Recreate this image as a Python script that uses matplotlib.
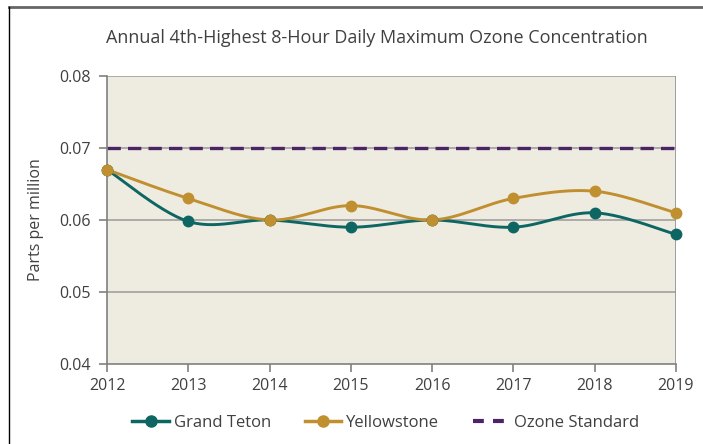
import matplotlib.pyplot as plt
from matplotlib.lines import Line2D
import numpy as np

years = [2012, 2013, 2014, 2015, 2016, 2017, 2018, 2019]
grand_teton = [0.067, 0.0598, 0.060, 0.059, 0.060, 0.059, 0.061, 0.058]
yellowstone = [0.067, 0.063, 0.060, 0.062, 0.060, 0.063, 0.064, 0.061]
ozone_standard = 0.070

teal = "#0e6663"
gold = "#c08f30"
purple = "#4b2466"
text_color = "#404040"

plt.rcParams["font.family"] = ["Open Sans", "DejaVu Sans"]


def smooth(x, y, n=30):
    # Excel-style smoothed line: cubic Bezier segments with Catmull-Rom tangents
    x = np.asarray(x, float)
    y = np.asarray(y, float)
    xs, ys = [], []
    t = np.linspace(0, 1, n)
    for i in range(len(x) - 1):
        p0 = np.array([x[max(i - 1, 0)], y[max(i - 1, 0)]])
        p1 = np.array([x[i], y[i]])
        p2 = np.array([x[i + 1], y[i + 1]])
        p3 = np.array([x[min(i + 2, len(x) - 1)], y[min(i + 2, len(x) - 1)]])
        c1 = p1 + (p2 - p0) / 6
        c2 = p2 - (p3 - p1) / 6
        b = (np.outer((1 - t) ** 3, p1) + np.outer(3 * (1 - t) ** 2 * t, c1)
             + np.outer(3 * (1 - t) * t ** 2, c2) + np.outer(t ** 3, p2))
        xs.extend(b[:, 0])
        ys.extend(b[:, 1])
    return xs, ys


fig = plt.figure(figsize=(7.03, 4.44), dpi=100)
ax = fig.add_axes([107 / 703, 1 - 364 / 444, (676 - 107) / 703, (364 - 76) / 444])
ax.set_facecolor("#eeebe1")

for v in [0.05, 0.06, 0.07, 0.08]:
    ax.axhline(v, color="#a0a0a0", linewidth=1.2, zorder=1)

ax.plot([years[0], years[-1]], [ozone_standard, ozone_standard], color=purple,
        linewidth=2.4, dashes=(4, 2.15), dash_capstyle="butt", zorder=2)

for vals, c in [(grand_teton, teal), (yellowstone, gold)]:
    sx, sy = smooth(years, vals)
    ax.plot(sx, sy, color=c, linewidth=2.1, zorder=3, solid_capstyle="round")
    ax.plot(years, vals, "o", color=c, markersize=7.5, zorder=4, clip_on=False)

ax.set_xlim(2012, 2019)
ax.set_ylim(0.04, 0.08)
ax.set_xticks(years)
ax.set_yticks([0.04, 0.05, 0.06, 0.07, 0.08])
ax.set_yticklabels(["0.04", "0.05", "0.06", "0.07", "0.08"])
for s in ["top", "right"]:
    ax.spines[s].set_visible(False)
ax.spines["left"].set_color("#808080")
ax.spines["bottom"].set_color("#808080")
ax.spines["left"].set_linewidth(1.2)
ax.spines["bottom"].set_linewidth(1.2)
ax.axvline(2019, color="#909090", linewidth=1.2, zorder=1)
ax.tick_params(axis="both", colors="#808080", labelcolor=text_color,
               labelsize=11.5, length=6, width=1.2)
ax.tick_params(axis="x", pad=4)
ax.tick_params(axis="y", pad=6)
ax.set_ylabel("Parts per million", color=text_color, fontsize=11.5, labelpad=11)

fig.text(377 / 703, 1 - 38 / 444, "Annual 4th-Highest 8-Hour Daily Maximum Ozone Concentration",
         ha="center", va="center", color=text_color, fontsize=13)

handles = [
    Line2D([], [], color=teal, linewidth=2.5, marker="o", markersize=8),
    Line2D([], [], color=gold, linewidth=2.5, marker="o", markersize=8),
    Line2D([], [], color=purple, linewidth=3, dashes=(2.6, 2.2), dash_capstyle="butt"),
]
fig.legend(handles, ["Grand Teton", "Yellowstone", "Ozone Standard"],
           loc="center", bbox_to_anchor=(386 / 703, 1 - 423 / 444), ncol=3,
           frameon=False, fontsize=12, labelcolor=text_color,
           handlelength=2.2, handletextpad=0.3, columnspacing=2.0)

# outer frame lines
fig.add_artist(Line2D([9 / 703, 1], [1 - 7 / 444, 1 - 7 / 444], color="#666666", linewidth=2))
fig.add_artist(Line2D([9 / 703, 9 / 703], [0, 1 - 7 / 444], color="black", linewidth=1))

fig.savefig("out.png", dpi=100)
